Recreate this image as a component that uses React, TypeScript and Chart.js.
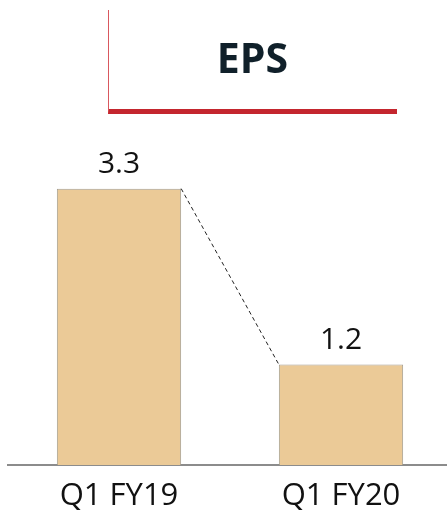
import { useEffect, useRef } from "react";
import { Chart, registerables } from "chart.js";

Chart.register(...registerables);

// EPS by quarter
const categories = ["Q1 FY19", "Q1 FY20"];
const epsValues = [3.3, 1.2];
const valueLabels = ["3.3", "1.2"];
const chartTitle = "EPS";

const FONT = "'Open Sans', sans-serif";

// Dashed connector from the top-right corner of one bar to the top-left of the next
const connectorPlugin = {
  id: "connector",
  afterDatasetsDraw(chart: any) {
    const meta = chart.getDatasetMeta(0);
    const ctx = chart.ctx;
    ctx.save();
    ctx.strokeStyle = "#222";
    ctx.lineWidth = 1;
    ctx.setLineDash([4, 3]);
    for (let i = 0; i < meta.data.length - 1; i++) {
      const a = meta.data[i].getProps(["x", "y", "width"], true);
      const b = meta.data[i + 1].getProps(["x", "y", "width"], true);
      ctx.beginPath();
      ctx.moveTo(a.x + a.width / 2, a.y);
      ctx.lineTo(b.x - b.width / 2, b.y);
      ctx.stroke();
    }
    ctx.restore();
  },
};

// Value labels above each bar
const valueLabelPlugin = {
  id: "valueLabels",
  afterDatasetsDraw(chart: any) {
    const meta = chart.getDatasetMeta(0);
    const ctx = chart.ctx;
    ctx.save();
    ctx.font = `30px ${FONT}`;
    ctx.fillStyle = "#111";
    ctx.textAlign = "center";
    ctx.textBaseline = "alphabetic";
    meta.data.forEach((bar: any, i: number) => {
      const p = bar.getProps(["x", "y"], true);
      ctx.fillText(valueLabels[i], p.x, p.y - 16);
    });
    ctx.restore();
  },
};

export default function App() {
  const canvasRef = useRef<HTMLCanvasElement | null>(null);

  useEffect(() => {
    if (!canvasRef.current) return;
    const chart = new Chart(canvasRef.current, {
      type: "bar",
      data: {
        labels: categories,
        datasets: [
          {
            data: epsValues,
            backgroundColor: "#ebca97",
            borderColor: "#a39c8e",
            borderWidth: 1,
            barPercentage: 0.56,
            categoryPercentage: 1,
          },
        ],
      },
      options: {
        responsive: false,
        animation: false,
        layout: { padding: { top: 130, left: 8, right: 0, bottom: -17 } },
        plugins: {
          legend: { display: false },
          tooltip: { enabled: false },
          title: { display: false },
        },
        scales: {
          x: {
            grid: { display: false, drawTicks: false },
            border: { display: true, color: "#8c8c8c", width: 2 },
            ticks: {
              color: "#111",
              padding: 16,
              font: { family: FONT, size: 31, lineHeight: 1 },
            },
          },
          y: {
            display: false,
            min: 0,
            max: 4,
          },
        },
      },
      plugins: [connectorPlugin, valueLabelPlugin],
    });
    return () => chart.destroy();
  }, []);

  return (
    <div
      style={{
        position: "absolute",
        left: 0,
        top: 0,
        width: 447,
        height: 511,
        overflow: "hidden",
        background: "#fff",
      }}
    >
      <canvas
        ref={canvasRef}
        width={452}
        height={511}
        style={{ position: "absolute", left: 0, top: 0, width: 452, height: 511 }}
      />
      <div
        style={{
          position: "absolute",
          left: 108,
          top: 10,
          width: 288,
          height: 99,
          borderLeft: "1px solid #d9585e",
          borderBottom: "5px solid #c4262e",
        }}
      />
      <div
        style={{
          position: "absolute",
          left: 108,
          top: 37,
          width: 289,
          textAlign: "center",
          fontFamily: FONT,
          fontWeight: 700,
          fontSize: 41,
          lineHeight: "41px",
          color: "#10202a",
        }}
      >
        {chartTitle}
      </div>
    </div>
  );
}
